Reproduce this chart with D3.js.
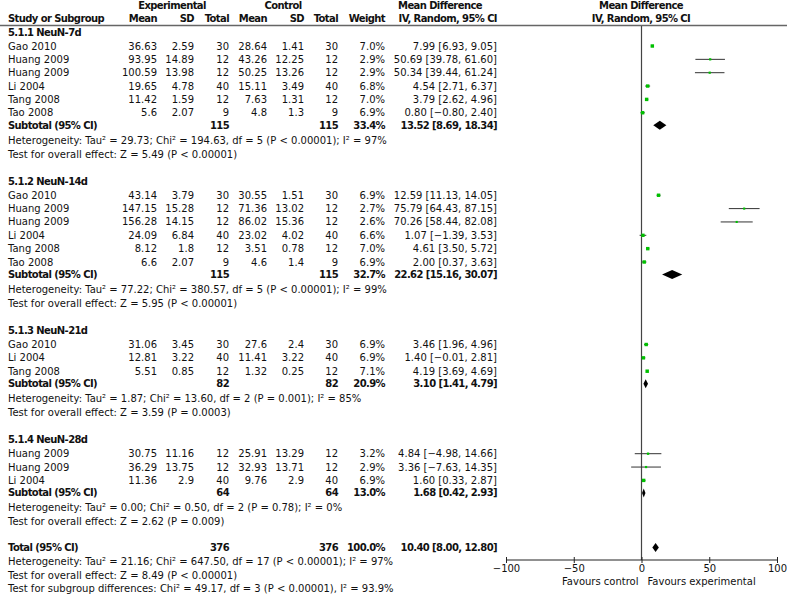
<!DOCTYPE html>
<html>
<head>
<meta charset="utf-8">
<script src="https://cdn.jsdelivr.net/npm/d3@7"></script>
<style>
  body { margin: 0; background: #fff; }
  svg text { font-family: "DejaVu Sans", sans-serif; font-size: 10px; fill: #111; }
  .b { font-weight: bold; letter-spacing: -0.6px; }
</style>
</head>
<body>
<div id="chart"></div>
<script>
// forest plot, mean difference, random effects

// study rows
const studyGroup = [0,0,0,0,0,0, 1,1,1,1,1,1, 2,2,2, 3,3,3];
const studyNames = ["Gao 2010","Huang 2009","Huang 2009","Li 2004","Tang 2008","Tao 2008",
                    "Gao 2010","Huang 2009","Huang 2009","Li 2004","Tang 2008","Tao 2008",
                    "Gao 2010","Li 2004","Tang 2008",
                    "Huang 2009","Huang 2009","Li 2004"];
const expMean  = ["36.63","93.95","100.59","19.65","11.42","5.6",
                  "43.14","147.15","156.28","24.09","8.12","6.6",
                  "31.06","12.81","5.51",
                  "30.75","36.29","11.36"];
const expSD    = ["2.59","14.89","13.98","4.78","1.59","2.07",
                  "3.79","15.28","14.15","6.84","1.8","2.07",
                  "3.45","3.22","0.85",
                  "11.16","13.75","2.9"];
const expTotal = [30,12,12,40,12,9, 30,12,12,40,12,9, 30,40,12, 12,12,40];
const ctlMean  = ["28.64","43.26","50.25","15.11","7.63","4.8",
                  "30.55","71.36","86.02","23.02","3.51","4.6",
                  "27.6","11.41","1.32",
                  "25.91","32.93","9.76"];
const ctlSD    = ["1.41","12.25","13.26","3.49","1.31","1.3",
                  "1.51","13.02","15.36","4.02","0.78","1.4",
                  "2.4","3.22","0.25",
                  "13.29","13.71","2.9"];
const ctlTotal = [30,12,12,40,12,9, 30,12,12,40,12,9, 30,40,12, 12,12,40];
const weights  = [7.0,2.9,2.9,6.8,7.0,6.9, 6.9,2.7,2.6,6.6,7.0,6.9, 6.9,6.9,7.1, 3.2,2.9,6.9];
const mdValues = [7.99,50.69,50.34,4.54,3.79,0.80, 12.59,75.79,70.26,1.07,4.61,2.00, 3.46,1.40,4.19, 4.84,3.36,1.60];
const ciLow    = [6.93,39.78,39.44,2.71,2.62,-0.80, 11.13,64.43,58.44,-1.39,3.50,0.37, 1.96,-0.01,3.69, -4.98,-7.63,0.33];
const ciHigh   = [9.05,61.60,61.24,6.37,4.96,2.40, 14.05,87.15,82.08,3.53,5.72,3.63, 4.96,2.81,4.69, 14.66,14.35,2.87];

// subgroups
const groupLabels   = ["5.1.1 NeuN-7d","5.1.2 NeuN-14d","5.1.3 NeuN-21d","5.1.4 NeuN-28d"];
const groupExpTotal = [115,115,82,64];
const groupCtlTotal = [115,115,82,64];
const groupWeight   = [33.4,32.7,20.9,13.0];
const groupMD       = [13.52,22.62,3.10,1.68];
const groupLow      = [8.69,15.16,1.41,0.42];
const groupHigh     = [18.34,30.07,4.79,2.93];
const groupHet = [
  "Heterogeneity: Tau² = 29.73; Chi² = 194.63, df = 5 (P < 0.00001); I² = 97%",
  "Heterogeneity: Tau² = 77.22; Chi² = 380.57, df = 5 (P < 0.00001); I² = 99%",
  "Heterogeneity: Tau² = 1.87; Chi² = 13.60, df = 2 (P = 0.001); I² = 85%",
  "Heterogeneity: Tau² = 0.00; Chi² = 0.50, df = 2 (P = 0.78); I² = 0%"
];
const groupTest = [
  "Test for overall effect: Z = 5.49 (P < 0.00001)",
  "Test for overall effect: Z = 5.95 (P < 0.00001)",
  "Test for overall effect: Z = 3.59 (P = 0.0003)",
  "Test for overall effect: Z = 2.62 (P = 0.009)"
];

// overall
const totalExp = 376, totalCtl = 376, totalWeight = 100.0;
const totalMD = 10.40, totalLow = 8.00, totalHigh = 12.80;
const totalNotes = [
  "Heterogeneity: Tau² = 21.16; Chi² = 647.50, df = 17 (P < 0.00001); I² = 97%",
  "Test for overall effect: Z = 8.49 (P < 0.00001)",
  "Test for subgroup differences: Chi² = 49.17, df = 3 (P < 0.00001), I² = 93.9%"
];

const axisTicks = [-100, -50, 0, 50, 100];

const width = 787, height = 595;
const svg = d3.select("#chart").append("svg")
    .attr("width", width).attr("height", height);

const x = d3.scaleLinear().domain([-100, 100]).range([506, 777]);
const axisY = 560;

// column right edges
const col = {name: 8, expMean: 157, expSD: 194, expTotal: 229, ctlMean: 267, ctlSD: 304, ctlTotal: 338, weight: 385, ci: 497};

const fmt = d3.format(".2f");
const num = v => fmt(v).replace("-", "−");
const ciText = (m, l, h) => `${num(m)} [${num(l)}, ${num(h)}]`;

function txt(xp, yp, s, anchor, bold) {
  return svg.append("text")
    .attr("x", xp).attr("y", yp).attr("dy", "0.35em")
    .attr("text-anchor", anchor || "start")
    .attr("class", bold ? "b" : null)
    .text(s);
}

// headers
txt(172, 5, "Experimental", "middle", true);
txt(283, 5, "Control", "middle", true);
txt(440, 5, "Mean Difference", "middle", true);
txt(641, 5, "Mean Difference", "middle", true);
txt(col.name, 18, "Study or Subgroup", "start", true);
txt(col.expMean, 18, "Mean", "end", true);
txt(col.expSD, 18, "SD", "end", true);
txt(col.expTotal, 18, "Total", "end", true);
txt(col.ctlMean, 18, "Mean", "end", true);
txt(col.ctlSD, 18, "SD", "end", true);
txt(col.ctlTotal, 18, "Total", "end", true);
txt(col.weight, 18, "Weight", "end", true);
txt(col.ci, 18, "IV, Random, 95% CI", "end", true);
txt(641, 18, "IV, Random, 95% CI", "middle", true);

svg.append("line")
  .attr("x1", 0).attr("x2", width).attr("y1", 25.5).attr("y2", 25.5)
  .attr("stroke", "#666").attr("stroke-width", 1.5);

// zero line
svg.append("line")
  .attr("x1", x(0)).attr("x2", x(0)).attr("y1", 26).attr("y2", axisY)
  .attr("stroke", "#444").attr("stroke-width", 1.2);

// row layout
const rowStep = 13.35;
let cursor = 32;

function diamond(yp, m, l, h) {
  svg.append("path")
    .attr("d", `M${x(l)},${yp}L${x(m)},${yp - 4.5}L${x(h)},${yp}L${x(m)},${yp + 4.5}Z`)
    .attr("fill", "#000");
}

groupLabels.forEach((g, gi) => {
  txt(col.name, cursor, g, "start", true);
  let yp = cursor + 14;
  const idx = d3.range(studyNames.length).filter(i => studyGroup[i] === gi);
  idx.forEach((i, k) => {
    const ry = yp + k * rowStep;
    txt(col.name, ry, studyNames[i]);
    txt(col.expMean, ry, expMean[i], "end");
    txt(col.expSD, ry, expSD[i], "end");
    txt(col.expTotal, ry, expTotal[i], "end");
    txt(col.ctlMean, ry, ctlMean[i], "end");
    txt(col.ctlSD, ry, ctlSD[i], "end");
    txt(col.ctlTotal, ry, ctlTotal[i], "end");
    txt(col.weight, ry, weights[i].toFixed(1) + "%", "end");
    txt(col.ci, ry, ciText(mdValues[i], ciLow[i], ciHigh[i]), "end");

    svg.append("line")
      .attr("x1", x(ciLow[i])).attr("x2", x(ciHigh[i]))
      .attr("y1", ry).attr("y2", ry)
      .attr("stroke", "#333").attr("stroke-width", 1);
    const s = 1.3 * Math.sqrt(weights[i]);
    svg.append("rect")
      .attr("x", x(mdValues[i]) - s / 2).attr("y", ry - s / 2)
      .attr("width", s).attr("height", s)
      .attr("fill", "#00c000");
  });
  const subY = yp + (idx.length - 1) * rowStep + 12.5;
  txt(col.name, subY, "Subtotal (95% CI)", "start", true);
  txt(col.expTotal, subY, groupExpTotal[gi], "end", true);
  txt(col.ctlTotal, subY, groupCtlTotal[gi], "end", true);
  txt(col.weight, subY, groupWeight[gi].toFixed(1) + "%", "end", true);
  txt(col.ci, subY, ciText(groupMD[gi], groupLow[gi], groupHigh[gi]), "end", true);
  diamond(subY, groupMD[gi], groupLow[gi], groupHigh[gi]);

  txt(col.name, subY + 15, groupHet[gi]);
  txt(col.name, subY + 29, groupTest[gi]);
  cursor = subY + 29 + 27;
});

// total
const totY = cursor - 1.5;
txt(col.name, totY, "Total (95% CI)", "start", true);
txt(col.expTotal, totY, totalExp, "end", true);
txt(col.ctlTotal, totY, totalCtl, "end", true);
txt(col.weight, totY, totalWeight.toFixed(1) + "%", "end", true);
txt(col.ci, totY, ciText(totalMD, totalLow, totalHigh), "end", true);
diamond(totY, totalMD, totalLow, totalHigh);
totalNotes.forEach((n, i) => txt(col.name, totY + 14 + i * 13.6, n));

// axis
const axis = d3.axisBottom(x).tickValues(axisTicks).tickSize(3).tickFormat(d3.format("d"));
const ax = svg.append("g")
  .attr("transform", `translate(0,${axisY})`)
  .call(axis);
ax.select(".domain").attr("d", `M${x(-100)},0H${x(100)}`).attr("stroke", "#222");
ax.selectAll(".tick line").attr("y1", -3).attr("y2", 3).attr("stroke", "#222");
ax.selectAll(".tick text").attr("y", 5).attr("dy", "0.71em")
  .style("font-family", "DejaVu Sans, sans-serif").style("font-size", "10px").attr("fill", "#111");

txt(x(0) - 3, 581, "Favours control", "end");
txt(x(0) + 6, 581, "Favours experimental", "start");
</script>
</body>
</html>
